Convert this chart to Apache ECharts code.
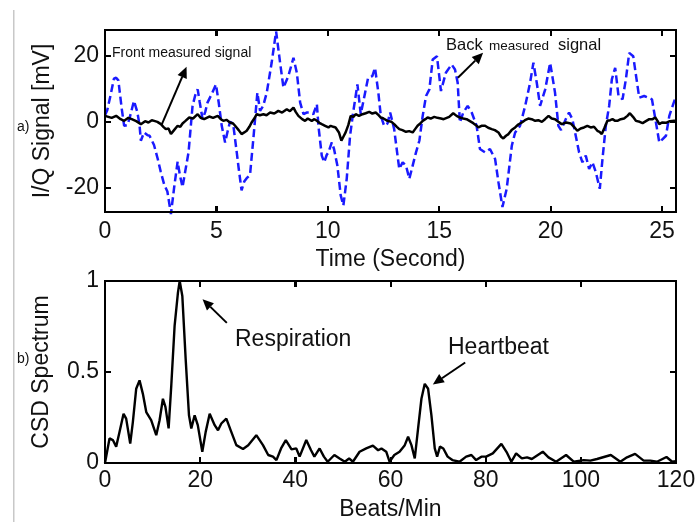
<!DOCTYPE html>
<html>
<head>
<meta charset="utf-8">
<script src="https://cdn.jsdelivr.net/npm/echarts@6/dist/echarts.min.js"></script>
<style>
html,body{margin:0;padding:0;background:#fff;}
#c{width:699px;height:522px;}
</style>
</head>
<body>
<div id="c"></div>
<script>
// ---- Data ----
const backT = [0.0,0.1,0.25,0.4,0.5,0.6,0.75,0.86,1.0,1.1,1.3,1.45,1.55,1.61,1.75,1.9,2.0,2.2,2.36,2.5,2.66,2.8,2.96,3.1,3.26,3.36,3.48,3.6,3.75,3.93,4.05,4.16,4.25,4.38,4.5,4.6,4.8,4.98,
5.1,5.24,5.39,5.5,5.61,5.75,5.91,6.0,6.13,6.25,6.36,6.51,6.66,6.84,6.96,7.1,7.26,7.48,7.68,7.86,8.01,8.23,8.46,8.61,8.76,8.91,9.05,9.21,9.35,9.51,9.58,9.73,9.84,9.95,10.03,10.18,
10.28,10.43,10.58,10.70,10.85,11.0,11.15,11.33,11.48,11.63,11.81,12.0,12.12,12.27,12.38,12.53,12.68,12.8,12.98,13.13,13.21,13.36,13.51,13.66,13.81,13.96,14.11,14.26,14.41,14.56,14.71,14.90,15.08,15.3,
15.56,15.71,15.83,15.93,16.08,16.28,16.46,16.68,16.83,17.06,17.28,17.51,17.66,17.84,18.03,18.26,18.41,18.63,18.86,19.08,19.23,19.38,19.53,19.76,19.98,20.2,20.35,20.47,
20.68,20.83,20.98,21.13,21.28,21.43,21.58,21.73,21.88,22.03,22.21,22.33,22.48,22.63,22.75,22.9,23.05,23.23,23.38,23.53,23.71,23.86,23.98,24.2,24.38,24.55,24.73,24.88,25.03,25.18,25.33,25.48,25.63];
const backV = [2.0,3.5,8,13,13.3,12.5,4,-1.2,-1.0,1,6.3,3,-1,-5.7,-3.2,-4,-4.2,-7,-11,-15,-19,-21,-27.8,-20,-12,-16,-19.7,-15,-9.2,4.8,8,9.8,6,0.8,3,5.8,8.5,11.3,
6,-1.2,-6.2,-3,0,-0.5,-9,-14,-20.7,-18,-17,-16,-5,8.8,3.3,4.8,8.8,17.8,27.3,17.8,10.3,13.8,19.3,14.8,5.8,2.3,2.8,2.8,2.3,5.3,-1.2,-10.2,-12.2,-10,-9.2,-6.2,
-8.2,-13.2,-22.2,-25.2,-17.2,-4.2,3.3,11.3,2.3,7.3,13.3,13.8,16.3,8.8,1.8,-1.2,-0.5,2.8,-2.2,-10.2,-14.2,-12.2,-13.2,-17.2,-13.2,-9.2,-5.7,1.8,7.8,9.8,18.8,19.8,9.3,14.8,
17.3,15.8,11.8,-0.2,2.8,4.8,2.8,-1.2,-8.2,-9.2,-8.2,-11.2,-18.2,-25.7,-20.2,-7.2,-3.2,-1.2,4.8,11.8,17.8,11.8,4.8,9.8,17.8,8.8,-1.2,-2.5,
0.8,2.8,0.8,-4.2,-9.2,-12.2,-10.2,-14.2,-12.2,-15.2,-20.2,-11.2,-1.2,4.8,12.8,16.3,7.8,6.8,12.8,20.8,19.8,12.8,7.3,7.8,7.3,6.8,-0.2,-6.2,-5.2,-4.2,1.8,4.8,7.8];

const frontT = [0,0.3,0.5,0.7,0.86,1.05,1.2,1.4,1.61,1.8,1.95,2.1,2.21,2.35,2.51,2.62,2.73,2.85,2.96,3.1,3.26,3.38,3.48,3.6,3.78,3.95,4.16,4.3,4.45,4.68,4.85,5.06,5.2,5.31,5.45,5.61,5.75,5.84,6.0,6.13,6.25,6.36,6.48,6.58,6.7,6.81,6.95,7.11,7.25,7.41,7.6,7.78,7.95,8.16,8.3,8.46,8.56,8.68,8.85,8.98,9.1,9.28,9.4,9.51,9.62,9.73,9.88,10.03,10.13,10.25,10.35,10.5,10.61,10.7,10.8,10.92,11.03,11.15,11.25,11.4,11.56,11.7,11.86,12.0,12.15,12.28,12.38,12.5,12.68,12.85,12.98,13.1,13.21,13.35,13.51,13.65,13.81,13.92,14.03,14.15,14.26,14.38,14.48,14.62,14.78,14.92,15.08,15.2,15.26,15.45,15.63,15.78,15.93,16.08,16.23,16.38,16.53,16.65,16.76,16.9,17.06,17.2,17.36,17.5,17.66,17.78,17.88,18.0,18.11,18.25,18.41,18.55,18.71,18.85,19.0,19.15,19.31,19.45,19.61,19.75,19.91,20.05,20.2,20.35,20.5,20.7,20.9,21.05,21.2,21.35,21.5,21.65,21.8,21.95,22.1,22.2,22.3,22.42,22.55,22.68,22.78,22.9,23.0,23.15,23.3,23.45,23.56,23.7,23.83,24.0,24.13,24.28,24.43,24.58,24.7,24.8,24.88,25.0,25.18,25.35,25.55,25.63];
const frontV = [1.8,1.2,1.8,0.8,0.3,1.2,0.8,0.2,-0.7,0.2,-0.2,0.5,0.3,0.0,-0.7,-1.5,-2.2,-2.0,-3.7,-2.5,-1.2,-1.5,-0.5,0.2,1.3,1.0,2.3,1.2,0.8,1.6,1.2,1.8,0.8,0.3,0.6,-0.2,-0.5,-1.2,-2.5,-3.7,-3.2,-2.7,-1.5,-0.2,1.0,2.3,2.0,2.3,2.0,2.8,2.5,3.3,2.8,3.8,3.2,4.3,3.0,1.8,0.8,0.3,1.0,0.3,0.8,0.3,-0.3,-0.7,-1.2,-1.7,-1.2,-1.5,-1.7,-3.2,-5.7,-4.5,-3.2,-1.0,1.8,1.5,2.3,1.8,2.3,2.6,3.0,2.5,2.8,2.0,1.3,1.0,0.3,0.0,-0.7,-1.5,-2.2,-2.5,-3.0,-2.8,-3.2,-2.2,-1.2,-0.5,0.3,0.8,1.3,1.0,1.5,1.2,1.0,0.8,0.3,1.5,2.6,1.8,1.3,1.0,0.8,0.2,-0.4,-1.0,-1.7,-1.2,-1.2,-1.8,-2.2,-2.5,-3.2,-4.5,-5.0,-4.2,-3.7,-2.5,-1.7,-0.8,-0.2,0.5,1.0,0.8,0.3,0.5,0.0,0.8,1.8,1.0,0.8,0.0,-0.7,-0.2,-0.5,-1.5,-2.7,-2.0,-1.7,-1.2,-1.7,-1.5,-2.7,-3.0,-3.7,-1.8,0.3,0.5,0.8,0.3,0.3,0.8,1.0,1.8,2.6,1.5,0.3,0.0,-0.4,0.2,0.8,0.8,1.3,0.3,-0.7,-0.2,-0.3,0.2,0.3,0.2];

const bpm = [0,0.1,0.95,1.65,2.35,3.05,3.9,4.45,5.3,5.86,6.56,7.26,7.96,8.67,9.7,10.77,11.47,12.17,12.7,13.37,13.93,14.63,15.33,15.7,16.25,16.95,17.65,18.14,18.84,19.5,20.45,21.16,22.0,23.05,23.75,24.45,25.5,26.56,27.6,29,30.1,31.8,33.2,34.3,35.3,36.03,37.0,38.0,39.2,40.2,40.9,42.3,43.3,44.0,45.1,46.0,46.8,48.2,49.3,50.4,51.3,52.1,53.5,54.9,56.3,57.4,58.1,59.1,59.8,60.8,61.9,63.0,63.7,64.4,65.1,65.8,66.5,67.2,67.9,68.6,69.3,69.8,70.4,71.1,72.0,73.0,74.5,75.9,77.0,78.0,79.1,80.1,81.5,83.3,84.4,85.4,86.4,87.6,88.7,89.7,92.0,93.2,94.8,96.9,98.5,100.6,102.0,103.4,106.3,108.3,109.7,111.4,113.2,114.6,116.0,118.0,119.2,120];
const csd = [0.0,0.007,0.135,0.126,0.09,0.17,0.27,0.244,0.107,0.226,0.408,0.454,0.38,0.28,0.235,0.153,0.235,0.353,0.308,0.19,0.426,0.754,0.936,1.0,0.918,0.572,0.262,0.19,0.262,0.208,0.062,0.171,0.27,0.208,0.18,0.217,0.244,0.17,0.098,0.077,0.098,0.153,0.098,0.044,0.035,0.016,0.08,0.126,0.075,0.08,0.035,0.126,0.07,0.035,0.08,0.035,0.007,0.044,0.025,0.007,0.025,0.007,0.062,0.08,0.095,0.07,0.08,0.062,0.007,0.044,0.062,0.098,0.144,0.098,0.025,0.19,0.353,0.435,0.408,0.262,0.08,0.035,0.09,0.08,0.035,0.016,0.007,0.035,0.044,0.016,0.035,0.035,0.053,0.105,0.06,0.007,0.053,0.025,0.031,0.022,0.062,0.031,0.007,0.044,0.007,0.016,0.013,0.022,0.044,0.007,0.031,0.05,0.013,0.013,0.007,0.033,0.007,0.01];

const timeTicks = [0,5,10,15,20,25];
const signalTicks = [-20,0,20];
const bpmTicks = [0,20,40,60,80,100,120];
const csdTicks = [0,0.5,1];

// annotation arrows in data coordinates: [tail, head]
const frontArrow = [[2.54,-0.9],[3.66,16.6]];
const backArrow = [[15.84,13.3],[16.97,20.8]];
const respArrow = [[25.6,0.77],[20.5,0.90]];
const heartArrow = [[75.7,0.552],[68.9,0.432]];

// ---- Chart ----
const FONT = "'Liberation Sans', Arial, sans-serif";
const chart = echarts.init(document.getElementById('c'), null, {renderer:'canvas'});
const zip = (a,b) => a.map((v,i)=>[v,b[i]]);

const T_EXT = [0, 25.63], S_EXT = [-27.2, 27.7], B_EXT = [0, 120], C_EXT = [0, 1];

function boxAxis(base, ticks){
  return Object.assign({
    type:'value',
    axisLine:{show:true, onZero:false, lineStyle:{color:'#000', width:2}},
    axisTick:{show:true, inside:true, length:6, customValues:ticks, lineStyle:{color:'#000', width:2}},
    splitLine:{show:false}
  }, base);
}
const tickLabel = {color:'#111', fontSize:23, fontFamily:FONT};
const nameStyle = {color:'#111', fontSize:23, fontFamily:FONT};

const option = {
  animation:false,
  grid:[
    {left:105, right:23, top:30, height:182, show:true, borderColor:'#000', borderWidth:2, backgroundColor:'transparent'},
    {left:105, right:23, top:281, height:183, show:true, borderColor:'#000', borderWidth:2, backgroundColor:'transparent'}
  ],
  xAxis:[
    boxAxis({gridIndex:0, min:T_EXT[0], max:T_EXT[1], position:'bottom',
      name:'Time (Second)', nameLocation:'middle', nameGap:36, nameTextStyle:nameStyle,
      axisLabel:Object.assign({margin:8, customValues:timeTicks}, tickLabel)}, timeTicks),
    boxAxis({gridIndex:0, min:T_EXT[0], max:T_EXT[1], position:'top', axisLabel:{show:false}}, timeTicks),
    boxAxis({gridIndex:1, min:B_EXT[0], max:B_EXT[1], interval:20, position:'bottom',
      name:'Beats/Min', nameLocation:'middle', nameGap:35, nameTextStyle:nameStyle,
      axisLabel:Object.assign({margin:6, customValues:bpmTicks}, tickLabel)}, bpmTicks),
    boxAxis({gridIndex:1, min:B_EXT[0], max:B_EXT[1], interval:20, position:'top', axisLabel:{show:false}}, bpmTicks)
  ],
  yAxis:[
    boxAxis({gridIndex:0, min:S_EXT[0], max:S_EXT[1], position:'left',
      name:'I/Q Signal [mV]', nameLocation:'middle', nameGap:51, nameTextStyle:nameStyle,
      axisLabel:Object.assign({margin:6, customValues:signalTicks}, tickLabel)}, signalTicks),
    boxAxis({gridIndex:0, min:S_EXT[0], max:S_EXT[1], position:'right', axisLabel:{show:false}}, signalTicks),
    boxAxis({gridIndex:1, min:C_EXT[0], max:C_EXT[1], interval:0.5, position:'left',
      name:'CSD Spectrum', nameLocation:'middle', nameGap:52, nameTextStyle:nameStyle,
      axisLabel:Object.assign({margin:6, customValues:csdTicks}, tickLabel)}, csdTicks),
    boxAxis({gridIndex:1, min:C_EXT[0], max:C_EXT[1], interval:0.5, position:'right', axisLabel:{show:false}}, csdTicks)
  ],
  series:[
    {type:'line', xAxisIndex:0, yAxisIndex:0, data:zip(backT, backV), showSymbol:false, clip:false,
      lineStyle:{color:'#1a1aff', width:2.5, type:[8,4]}},
    {type:'line', xAxisIndex:0, yAxisIndex:0, data:zip(frontT, frontV), showSymbol:false, clip:false,
      lineStyle:{color:'#000', width:2.5}},
    {type:'line', xAxisIndex:2, yAxisIndex:2, data:zip(bpm, csd), showSymbol:false, clip:false,
      lineStyle:{color:'#000', width:2.4}}
  ]
};
chart.setOption(option);

const topFinder = {xAxisIndex:0, yAxisIndex:0};
const botFinder = {xAxisIndex:2, yAxisIndex:2};

// box frame + inside ticks as thin filled bars, placed through the axes' own scales
function frameGraphics(finder, xe, ye, xticks, yticks){
  const tl = chart.convertToPixel(finder, [xe[0], ye[1]]);
  const br = chart.convertToPixel(finder, [xe[1], ye[0]]);
  const L = 6, W = 2, st = {fill:'#000'};
  const x0 = Math.round(tl[0]), y0 = Math.round(tl[1]), x1 = Math.round(br[0]), y1 = Math.round(br[1]);
  const bar = (x, y, w, h) => ({type:'rect', shape:{x:x, y:y, width:w, height:h}, style:st, silent:true, z:45});
  const out = [
    bar(x0-1, y0-1, x1-x0+2, W), bar(x0-1, y1-1, x1-x0+2, W),
    bar(x0-1, y0-1, W, y1-y0+2), bar(x1-1, y0-1, W, y1-y0+2)
  ];
  xticks.forEach(v => {
    const px = Math.round(chart.convertToPixel(finder, [v, ye[0]])[0]);
    out.push(bar(px-1, y1-L, W, L));
    out.push(bar(px-1, y0, W, L));
  });
  yticks.forEach(v => {
    const py = Math.round(chart.convertToPixel(finder, [xe[0], v])[1]);
    out.push(bar(x0, py-1, L, W));
    out.push(bar(x1-L, py-1, L, W));
  });
  return out;
}

// annotation arrows positioned through the chart's coordinate conversion
function arrowGraphics(pair, finder){
  const p0 = chart.convertToPixel(finder, pair[0]);
  const p1 = chart.convertToPixel(finder, pair[1]);
  const dx = p1[0]-p0[0], dy = p1[1]-p0[1];
  const len = Math.sqrt(dx*dx+dy*dy);
  const ux = dx/len, uy = dy/len, nx = -uy, ny = ux;
  const hl = 11, hw = 5;
  const bx = p1[0]-ux*hl, by = p1[1]-uy*hl;
  return [
    {type:'line', shape:{x1:p0[0], y1:p0[1], x2:bx, y2:by}, style:{stroke:'#000', lineWidth:2}, silent:true, z:50},
    {type:'polygon', shape:{points:[[p1[0],p1[1]],[bx+nx*hw,by+ny*hw],[bx-nx*hw,by-ny*hw]]}, style:{fill:'#000'}, silent:true, z:50}
  ];
}

const txt = (x, y, s, size) => ({type:'text', x:x, y:y, z:60, silent:true,
  style:{text:s, font:size+'px '+FONT, fill:'#111', textVerticalAlign:'middle'}});

const g = [].concat(
  frameGraphics(topFinder, T_EXT, S_EXT, timeTicks, signalTicks),
  frameGraphics(botFinder, B_EXT, C_EXT, bpmTicks, csdTicks),
  arrowGraphics(frontArrow, topFinder), arrowGraphics(backArrow, topFinder),
  arrowGraphics(respArrow, botFinder), arrowGraphics(heartArrow, botFinder),
  [
    {type:'rect', shape:{x:13, y:10, width:1.5, height:512}, style:{fill:'#c8c8c8'}, silent:true, z:45},
    txt(17, 127, 'a)', 14),
    txt(17, 359, 'b)', 14),
    txt(112, 53.5, 'Front measured signal', 14),
    txt(446, 45, 'Back', 16.5),
    txt(489, 46, 'measured', 13.5),
    txt(558, 45, 'signal', 16.5),
    txt(235, 340, 'Respiration', 23),
    txt(448, 347.5, 'Heartbeat', 23)
  ]);
g.forEach(el => { el.zlevel = 1; });
chart.setOption({graphic:g});
</script>
</body>
</html>
